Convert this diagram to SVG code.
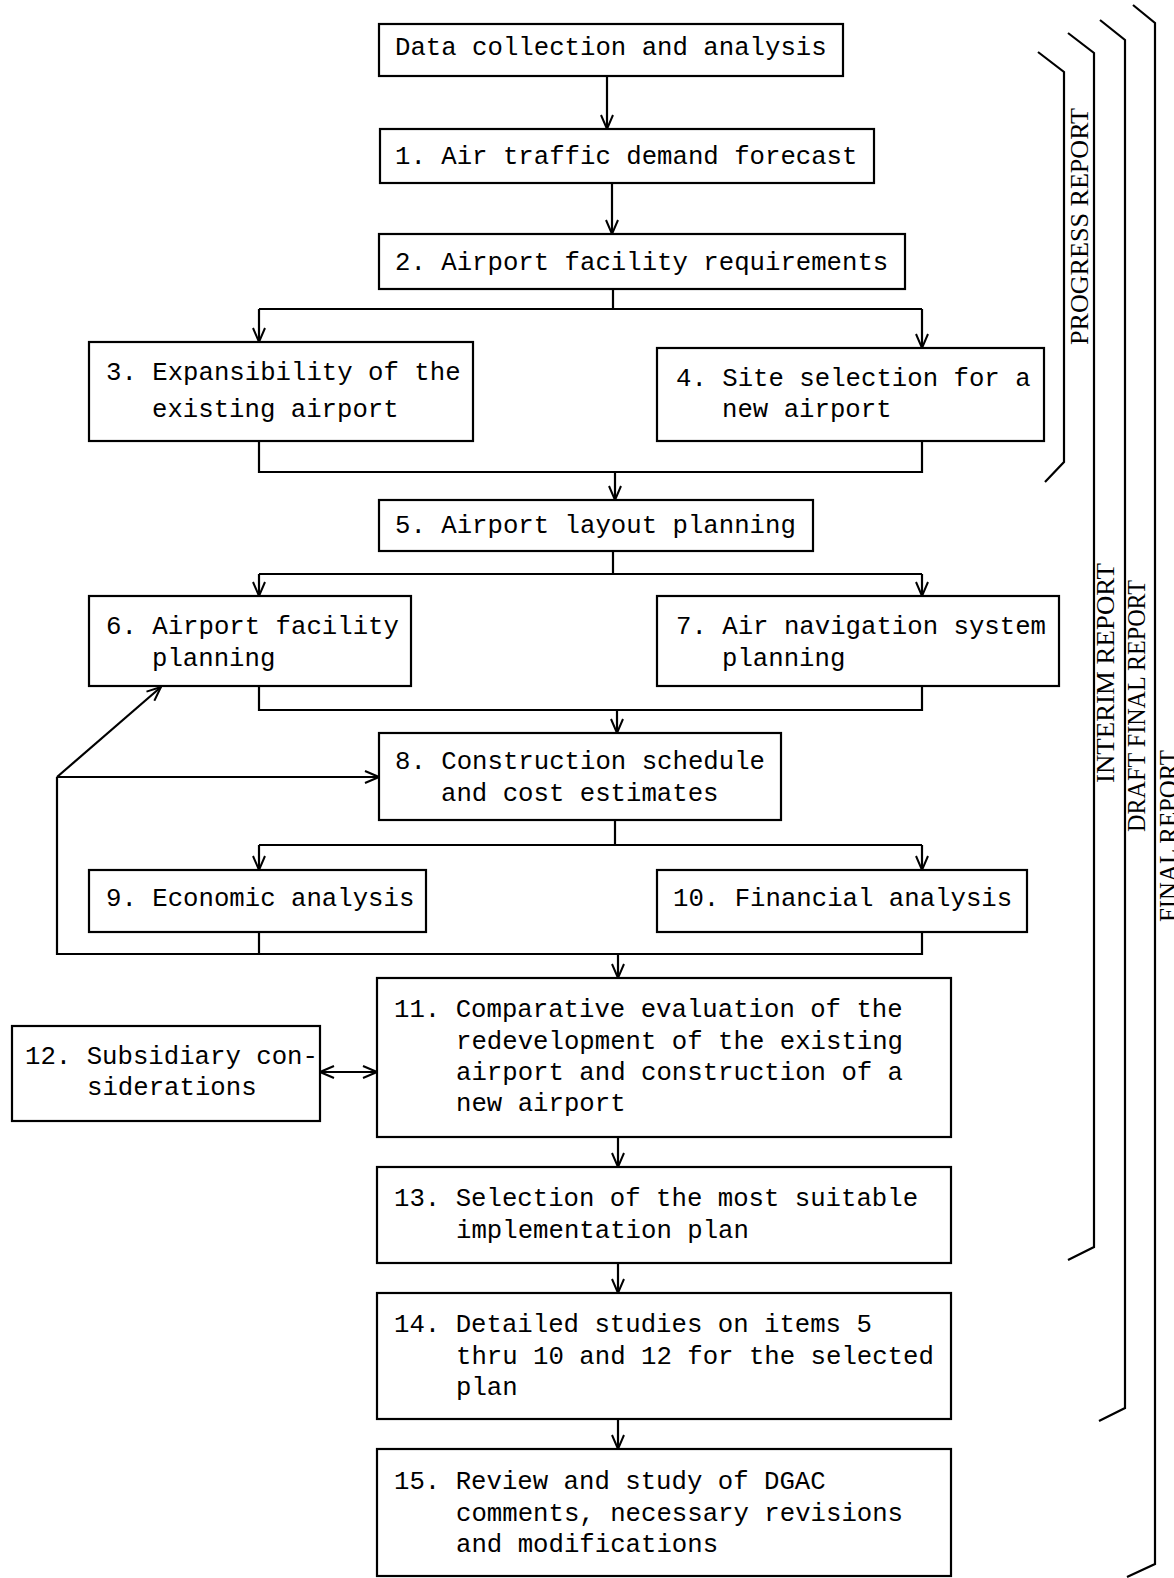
<svg xmlns="http://www.w3.org/2000/svg" width="1174" height="1578" viewBox="0 0 1174 1578">
<defs>
<style>
.box{fill:#fff;stroke:#000;stroke-width:2.2}
.t{font-family:"Liberation Mono","DejaVu Sans Mono",monospace;font-size:25.7px;fill:#000}
.c{fill:none;stroke:#000;stroke-width:2.2}
.r{font-family:"Liberation Serif","DejaVu Serif",serif;font-size:25px;fill:#000}
</style>
<marker id="ah" viewBox="0 0 16 14" refX="15" refY="7" markerWidth="16" markerHeight="14" markerUnits="userSpaceOnUse" orient="auto-start-reverse">
<path d="M1,1 L15,7 L1,13" fill="none" stroke="#000" stroke-width="2"/>
</marker>
</defs>
<rect width="1174" height="1578" fill="#fff"/>

<g id="connectors">
<path class="c" d="M607,76 V129" marker-end="url(#ah)"/>
<path class="c" d="M612,183 V234" marker-end="url(#ah)"/>
<path class="c" d="M613,289 V309 M259,309 H922"/>
<path class="c" d="M259,309 V342" marker-end="url(#ah)"/>
<path class="c" d="M922,309 V348" marker-end="url(#ah)"/>
<path class="c" d="M259,441 V472 H922 V441"/>
<path class="c" d="M615,472 V500" marker-end="url(#ah)"/>
<path class="c" d="M613,551 V574 M259,574 H922"/>
<path class="c" d="M259,574 V596" marker-end="url(#ah)"/>
<path class="c" d="M922,574 V596" marker-end="url(#ah)"/>
<path class="c" d="M259,686 V710 H922 V686"/>
<path class="c" d="M617,710 V733" marker-end="url(#ah)"/>
<path class="c" d="M615,820 V845 M259,845 H922"/>
<path class="c" d="M259,845 V870" marker-end="url(#ah)"/>
<path class="c" d="M922,845 V870" marker-end="url(#ah)"/>
<path class="c" d="M259,932 V954 M922,932 V954 H57 V777"/>
<path class="c" d="M57,777 H379" marker-end="url(#ah)"/>
<path class="c" d="M57,777 L161,687" marker-end="url(#ah)"/>
<path class="c" d="M618,954 V978" marker-end="url(#ah)"/>
<path class="c" d="M320,1072 H377" marker-start="url(#ah)" marker-end="url(#ah)"/>
<path class="c" d="M618,1137 V1167" marker-end="url(#ah)"/>
<path class="c" d="M618,1263 V1293" marker-end="url(#ah)"/>
<path class="c" d="M618,1419 V1449" marker-end="url(#ah)"/>
</g>

<g id="brackets">
<path class="c" d="M1038,52 L1064,72 V462 L1045,482"/>
<path class="c" d="M1068,33 L1094,53 V1247 L1068,1260"/>
<path class="c" d="M1100,20 L1125,40 V1408 L1099,1421"/>
<path class="c" d="M1133,5 L1155,23 V1564 L1127,1577"/>
<text class="r" transform="translate(1088,345) rotate(-90)" textLength="237" lengthAdjust="spacingAndGlyphs">PROGRESS REPORT</text>
<text class="r" transform="translate(1114,783) rotate(-90)" textLength="220" lengthAdjust="spacingAndGlyphs">INTERIM REPORT</text>
<text class="r" transform="translate(1145,832) rotate(-90)" textLength="252" lengthAdjust="spacingAndGlyphs">DRAFT FINAL REPORT</text>
<text class="r" transform="translate(1177,922) rotate(-90)" textLength="172" lengthAdjust="spacingAndGlyphs">FINAL REPORT</text>
</g>

<g id="node-data">
<rect class="box" x="379" y="24" width="464" height="52"/>
<text class="t" x="395" y="55">Data collection and analysis</text>
</g>
<g id="node-1">
<rect class="box" x="380" y="129" width="494" height="54"/>
<text class="t" x="395" y="164">1. Air traffic demand forecast</text>
</g>
<g id="node-2">
<rect class="box" x="379" y="234" width="526" height="55"/>
<text class="t" x="395" y="270">2. Airport facility requirements</text>
</g>
<g id="node-3">
<rect class="box" x="89" y="342" width="384" height="99"/>
<text class="t" x="106" y="380">3. Expansibility of the</text>
<text class="t" x="152" y="417">existing airport</text>
</g>
<g id="node-4">
<rect class="box" x="657" y="348" width="387" height="93"/>
<text class="t" x="676" y="386">4. Site selection for a</text>
<text class="t" x="722" y="417">new airport</text>
</g>
<g id="node-5">
<rect class="box" x="379" y="500" width="434" height="51"/>
<text class="t" x="395" y="533">5. Airport layout planning</text>
</g>
<g id="node-6">
<rect class="box" x="89" y="596" width="322" height="90"/>
<text class="t" x="106" y="634">6. Airport facility</text>
<text class="t" x="152" y="666">planning</text>
</g>
<g id="node-7">
<rect class="box" x="657" y="596" width="402" height="90"/>
<text class="t" x="676" y="634">7. Air navigation system</text>
<text class="t" x="722" y="666">planning</text>
</g>
<g id="node-8">
<rect class="box" x="379" y="733" width="402" height="87"/>
<text class="t" x="395" y="769">8. Construction schedule</text>
<text class="t" x="441" y="801">and cost estimates</text>
</g>
<g id="node-9">
<rect class="box" x="89" y="870" width="337" height="62"/>
<text class="t" x="106" y="906">9. Economic analysis</text>
</g>
<g id="node-10">
<rect class="box" x="657" y="870" width="370" height="62"/>
<text class="t" x="673" y="906">10. Financial analysis</text>
</g>
<g id="node-11">
<rect class="box" x="377" y="978" width="574" height="159"/>
<text class="t" x="394" y="1017">11. Comparative evaluation of the</text>
<text class="t" x="456" y="1049">redevelopment of the existing</text>
<text class="t" x="456" y="1080">airport and construction of a</text>
<text class="t" x="456" y="1111">new airport</text>
</g>
<g id="node-12">
<rect class="box" x="12" y="1026" width="308" height="95"/>
<text class="t" x="25" y="1064">12. Subsidiary con-</text>
<text class="t" x="87" y="1095">siderations</text>
</g>
<g id="node-13">
<rect class="box" x="377" y="1167" width="574" height="96"/>
<text class="t" x="394" y="1206">13. Selection of the most suitable</text>
<text class="t" x="456" y="1238">implementation plan</text>
</g>
<g id="node-14">
<rect class="box" x="377" y="1293" width="574" height="126"/>
<text class="t" x="394" y="1332">14. Detailed studies on items 5</text>
<text class="t" x="456" y="1364">thru 10 and 12 for the selected</text>
<text class="t" x="456" y="1395">plan</text>
</g>
<g id="node-15">
<rect class="box" x="377" y="1449" width="574" height="127"/>
<text class="t" x="394" y="1489">15. Review and study of DGAC</text>
<text class="t" x="456" y="1521">comments, necessary revisions</text>
<text class="t" x="456" y="1552">and modifications</text>
</g>
</svg>
